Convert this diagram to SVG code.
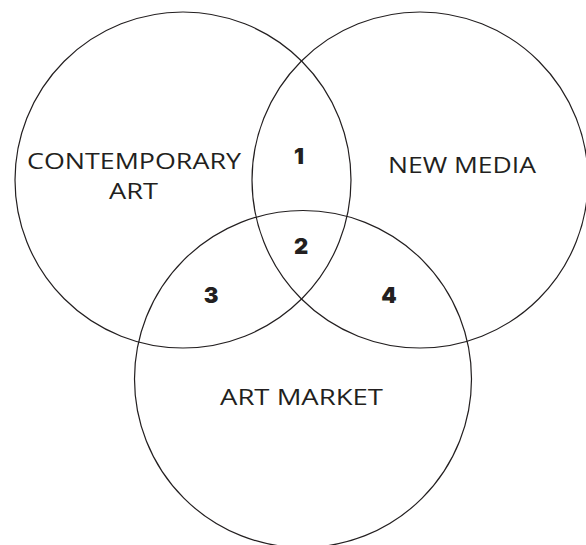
<svg xmlns="http://www.w3.org/2000/svg" width="586" height="545" viewBox="0 0 586 545">
<style>
.c{fill:none;stroke:#231f20;stroke-width:1.2}
.l{font-family:"Open Sans","Liberation Sans",Arial,sans-serif;font-weight:400;font-size:22px;fill:#231f20;text-anchor:middle}
.n{font-family:Inter,"Liberation Sans",Arial,sans-serif;font-weight:900;font-size:22px;fill:#231f20;text-anchor:middle}
</style>
<rect width="586" height="545" fill="#ffffff"/>
<g id="contemporary-art">
<circle class="c" cx="183" cy="180" r="168"/>
<text class="l" x="134" y="169" textLength="214" lengthAdjust="spacingAndGlyphs">CONTEMPORARY</text>
<text class="l" x="133.5" y="198.5" textLength="49" lengthAdjust="spacingAndGlyphs">ART</text>
</g>
<g id="new-media">
<circle class="c" cx="420" cy="180" r="168"/>
<text class="l" x="462" y="172.5" textLength="148" lengthAdjust="spacingAndGlyphs">NEW MEDIA</text>
</g>
<g id="art-market">
<circle class="c" cx="303" cy="379" r="168.5"/>
<text class="l" x="301.5" y="405" textLength="163" lengthAdjust="spacingAndGlyphs">ART MARKET</text>
</g>
<g id="region-1"><text class="n" x="299" y="164">1</text></g>
<g id="region-2"><text class="n" x="301" y="254">2</text></g>
<g id="region-3"><text class="n" x="211" y="302.5">3</text></g>
<g id="region-4"><text class="n" x="389" y="302.5">4</text></g>
<g id="connectors"></g>
</svg>
